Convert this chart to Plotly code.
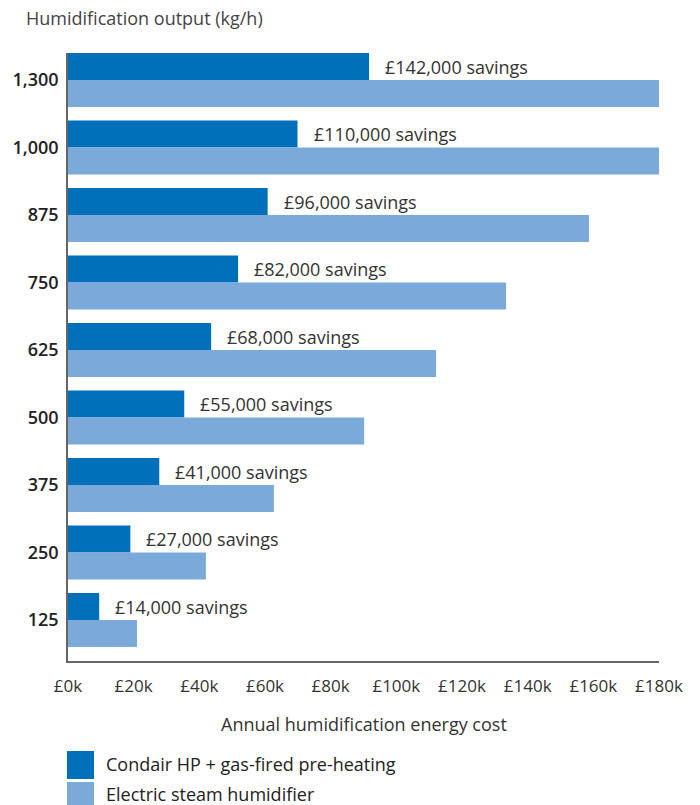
import plotly.graph_objects as go

# ---- data ----
categories = ["1,300", "1,000", "875", "750", "625", "500", "375", "250", "125"]
condair_hp_cost_k = [91.7, 69.9, 60.8, 51.8, 43.6, 35.4, 27.8, 19.0, 9.5]
electric_steam_cost_k = [180, 180, 158.7, 133.4, 112.1, 90.2, 62.7, 42.0, 21.0]
savings_labels = ["£142,000 savings", "£110,000 savings", "£96,000 savings",
                  "£82,000 savings", "£68,000 savings", "£55,000 savings",
                  "£41,000 savings", "£27,000 savings", "£14,000 savings"]
x_tick_values = [0, 20, 40, 60, 80, 100, 120, 140, 160, 180]
x_tick_labels = ["£0k", "£20k", "£40k", "£60k", "£80k", "£100k", "£120k", "£140k", "£160k", "£180k"]
series_names = ["Condair HP + gas-fired pre-heating", "Electric steam humidifier"]

DARK = "#0070BA"
LIGHT = "#7AA9DA"
FONT = "Open Sans"

fig = go.Figure()
fig.add_trace(go.Bar(y=categories, x=condair_hp_cost_k, orientation="h",
                     name=series_names[0], marker=dict(color=DARK, line=dict(width=0)),
                     showlegend=False, hoverinfo="x+y"))
fig.add_trace(go.Bar(y=categories, x=electric_steam_cost_k, orientation="h",
                     name=series_names[1], marker=dict(color=LIGHT, line=dict(width=0)),
                     showlegend=False, hoverinfo="x+y"))

# savings labels next to dark bars (y given as category index)
for idx, (val, lab) in enumerate(zip(condair_hp_cost_k, savings_labels)):
    fig.add_annotation(x=val, y=idx, text=lab, showarrow=False, xanchor="left",
                       yanchor="middle", xshift=14, yshift=13.5,
                       font=dict(family=FONT, size=18, color="#333333"))

# plot-area pixel helpers (plot spans x 68..659, y 53..661)
PW, PH = 591.0, 608.0
def px_x(px):
    return (px - 68) / PW
def px_y(py):
    return (661 - py) / PH

# x-axis title
fig.add_annotation(xref="paper", yref="paper", x=0.5, y=px_y(724),
                   text="Annual humidification energy cost", showarrow=False,
                   xanchor="center", yanchor="middle",
                   font=dict(family=FONT, size=18, color="#333333"))

# custom legend
legend_rows = [(series_names[0], DARK, 751, 779, 764), (series_names[1], LIGHT, 782, 810, 794)]
for name, col, y0, y1, yt in legend_rows:
    fig.add_shape(type="rect", xref="paper", yref="paper",
                  x0=px_x(67), x1=px_x(94), y0=px_y(y1), y1=px_y(y0),
                  fillcolor=col, line=dict(width=0), layer="above")
    fig.add_annotation(xref="paper", yref="paper", x=px_x(104), y=px_y(yt),
                       text=name, showarrow=False, xanchor="left", yanchor="middle",
                       font=dict(family=FONT, size=18, color="#222222"))

fig.update_layout(
    width=700, height=805,
    margin=dict(l=68, r=41, t=53, b=144),
    paper_bgcolor="white", plot_bgcolor="white",
    barmode="group", bargap=0.2, bargroupgap=0,
    title=dict(text="Humidification output (kg/h)", xref="container", yref="container",
               x=26 / 700, y=1 - 19 / 805, xanchor="left", yanchor="middle",
               font=dict(family=FONT, size=18, color="#444444")),
    font=dict(family=FONT),
    xaxis=dict(range=[0, 180], tickmode="array", tickvals=x_tick_values, ticktext=x_tick_labels,
               showgrid=False, zeroline=False, showline=True, linecolor="#666666",
               linewidth=1.5, ticks="", ticklabelstandoff=9,
               tickfont=dict(family=FONT, size=17, color="#333333")),
    yaxis=dict(type="category", range=[8.607, -0.4], showgrid=False, zeroline=False,
               showline=True, linecolor="#666666", linewidth=1.5, ticks="",
               ticklabelstandoff=4,
               tickfont=dict(family=FONT, size=18, color="#222222", weight=600)),
)

fig.write_html("out.html", config={"displayModeBar": False},
               post_script="document.body.style.margin='0';document.body.style.overflow='hidden';")
